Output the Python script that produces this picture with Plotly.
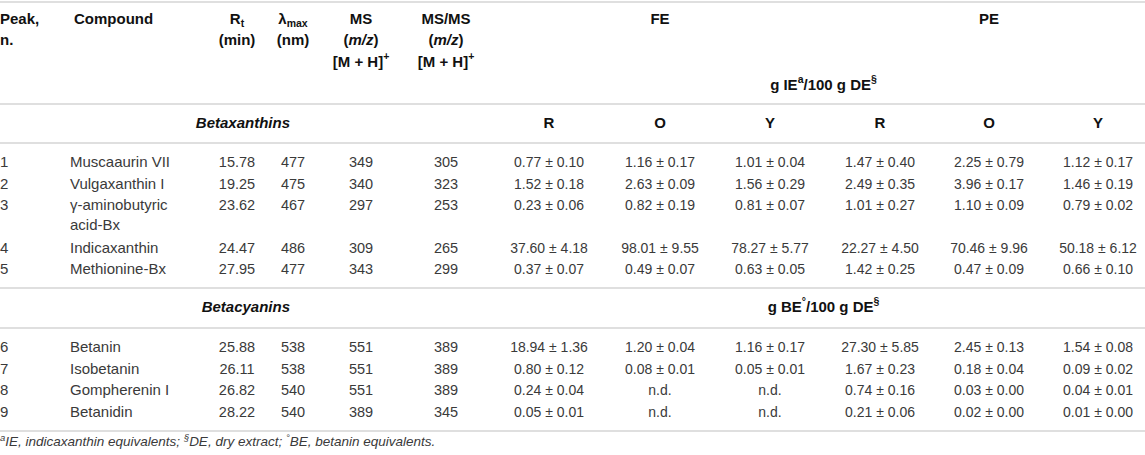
import plotly.graph_objects as go

# ---- table data ----
peak = [1, 2, 3, 4, 5, 6, 7, 8, 9]
compound = ["Muscaaurin VII", "Vulgaxanthin I", "γ-aminobutyric<br>acid-Bx", "Indicaxanthin",
            "Methionine-Bx", "Betanin", "Isobetanin", "Gompherenin I", "Betanidin"]
rt = [15.78, 19.25, 23.62, 24.47, 27.95, 25.88, 26.11, 26.82, 28.22]
lmax = [477, 475, 467, 486, 477, 538, 538, 540, 540]
ms = [349, 340, 297, 309, 343, 551, 551, 551, 389]
msms = [305, 323, 253, 265, 299, 389, 389, 389, 345]

fe_r = [0.77, 1.52, 0.23, 37.60, 0.37, 18.94, 0.80, 0.24, 0.05]
fe_r_sd = [0.10, 0.18, 0.06, 4.18, 0.07, 1.36, 0.12, 0.04, 0.01]
fe_o = [1.16, 2.63, 0.82, 98.01, 0.49, 1.20, 0.08, None, None]
fe_o_sd = [0.17, 0.09, 0.19, 9.55, 0.07, 0.04, 0.01, None, None]
fe_y = [1.01, 1.56, 0.81, 78.27, 0.63, 1.16, 0.05, None, None]
fe_y_sd = [0.04, 0.29, 0.07, 5.77, 0.05, 0.17, 0.01, None, None]
pe_r = [1.47, 2.49, 1.01, 22.27, 1.42, 27.30, 1.67, 0.74, 0.21]
pe_r_sd = [0.40, 0.35, 0.27, 4.50, 0.25, 5.85, 0.23, 0.16, 0.06]
pe_o = [2.25, 3.96, 1.10, 70.46, 0.47, 2.45, 0.18, 0.03, 0.02]
pe_o_sd = [0.79, 0.17, 0.09, 9.96, 0.09, 0.13, 0.04, 0.00, 0.00]
pe_y = [1.12, 1.46, 0.79, 50.18, 0.66, 1.54, 0.09, 0.04, 0.01]
pe_y_sd = [0.17, 0.19, 0.02, 6.12, 0.10, 0.08, 0.02, 0.01, 0.00]

groups = ["Betaxanthins", "Betacyanins"]
group_units = ["g IE<sup>a</sup>/100 g DE<sup>§</sup>", "g BE<sup>°</sup>/100 g DE<sup>§</sup>"]
extracts = ["FE", "PE"]
colours = ["R", "O", "Y"]
footnote = ("<i><sup>a</sup>IE, indicaxanthin equivalents; <sup>§</sup>DE, dry extract; "
            "<sup>°</sup>BE, betanin equivalents.</i>")

# ---- layout ----
W, H = 1145, 455
FONT = "Liberation Sans, Arial, sans-serif"
BODY = "#3a3a3a"
HEAD = "#111111"
x_peak, x_comp, x_rt, x_lm, x_ms, x_msms = 0, 70, 237, 293, 361, 446
x_val = [549, 660, 770, 880, 989, 1098]
row_y = [163, 185, 217, 249, 270, 348, 370, 391, 413]  # row 3 spans two lines
rules = [2, 104, 143, 288, 328, 431]

fig = go.Figure()


def add_text(xs, ys, texts, pos="middle center", size=15, color=BODY):
    fig.add_trace(go.Scatter(x=xs, y=ys, text=texts, mode="text", textposition=pos,
                             textfont=dict(family=FONT, size=size, color=color),
                             cliponaxis=False, hoverinfo="skip", showlegend=False))


def pm(m, s):
    return "n.d." if m is None else f"{m:.2f} ± {s:.2f}"


# header
add_text([x_peak, x_peak], [20, 41], ["<b>Peak,</b>", "<b>n.</b>"], "middle right", color=HEAD)
add_text([x_comp + 4], [20], ["<b>Compound</b>"], "middle right", color=HEAD)
add_text([x_rt, x_rt], [20, 41], ["<b>R<sub>t</sub></b>", "<b>(min)</b>"], color=HEAD)
add_text([x_lm, x_lm], [20, 41], ["<b>λ<sub>max</sub></b>", "<b>(nm)</b>"], color=HEAD)
add_text([x_ms] * 3, [20, 41, 63], ["<b>MS</b>", "<b>(<i>m/z</i>)</b>", "<b>[M + H]<sup>+</sup></b>"],
         color=HEAD)
add_text([x_msms] * 3, [20, 41, 63], ["<b>MS/MS</b>", "<b>(<i>m/z</i>)</b>", "<b>[M + H]<sup>+</sup></b>"],
         color=HEAD)
add_text([x_val[1], x_val[4]], [20, 20], [f"<b>{e}</b>" for e in extracts], color=HEAD)
mid = (x_val[0] + x_val[-1]) / 2
add_text([mid], [86], [f"<b>{group_units[0]}</b>"], color=HEAD)
add_text(x_val, [124] * 6, [f"<b>{c}</b>" for c in colours * 2], color=HEAD)

# group labels
add_text([290, 290], [124, 308], [f"<b><i>{g}</i></b>" for g in groups], "middle left", color=HEAD)
add_text([mid], [308], [f"<b>{group_units[1]}</b>"], color=HEAD)

# body
first_line = [y if i != 2 else 206 for i, y in enumerate(row_y)]
add_text([x_peak] * 9, first_line, [str(p) for p in peak], "middle right")
comp_y = [y if "<br>" not in c else y - 1 for y, c in zip(row_y, compound)]
add_text([x_comp] * 9, comp_y, compound, "middle right")
add_text([x_rt] * 9, first_line, [f"{v:.2f}" for v in rt], size=14.5)
add_text([x_lm] * 9, first_line, [str(v) for v in lmax], size=14.5)
add_text([x_ms] * 9, first_line, [str(v) for v in ms], size=14.5)
add_text([x_msms] * 9, first_line, [str(v) for v in msms], size=14.5)
series = [(fe_r, fe_r_sd), (fe_o, fe_o_sd), (fe_y, fe_y_sd),
          (pe_r, pe_r_sd), (pe_o, pe_o_sd), (pe_y, pe_y_sd)]
for xv, (m, s) in zip(x_val, series):
    add_text([xv] * 9, first_line, [pm(a, b) for a, b in zip(m, s)], size=14)

# footnote
add_text([x_peak], [443], [footnote], "middle right", size=13.5)

for y in rules:
    fig.add_shape(type="line", x0=0, x1=W, y0=y, y1=y, xref="x", yref="y",
                  line=dict(color="#d4d4d4", width=1.5))

fig.update_layout(width=W, height=H, margin=dict(l=0, r=0, t=0, b=0),
                  paper_bgcolor="white", plot_bgcolor="white",
                  xaxis=dict(range=[0, W], visible=False, fixedrange=True),
                  yaxis=dict(range=[H, 0], visible=False, fixedrange=True))

# the page body has a default 8px margin; drop it so the table sits flush like the original
fig.write_html("out.html", config={"displayModeBar": False},
               post_script="document.body.style.margin='0';")
